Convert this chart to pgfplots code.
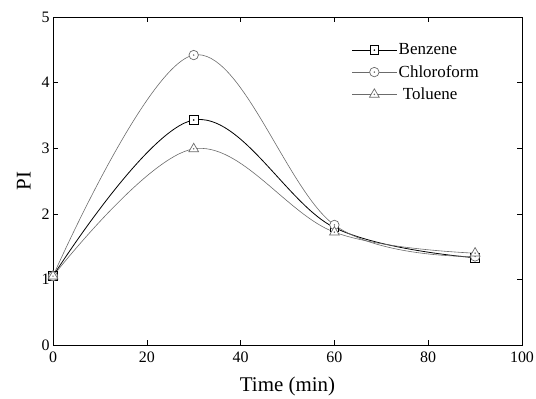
\documentclass[border=0pt]{standalone}
\usepackage{pgfplots}
\pgfplotsset{compat=1.18}
\usepackage{fontspec}
\setmainfont{Liberation Serif}
\pgfdeclareplotmark{sqdot}{%
  \pgfpathrectangle{\pgfqpoint{-\pgfplotmarksize}{-\pgfplotmarksize}}{\pgfqpoint{2\pgfplotmarksize}{2\pgfplotmarksize}}%
  \pgfusepathqfillstroke
  \pgfpathcircle{\pgfpointorigin}{0.35pt}\pgfusepathqstroke}
\pgfdeclareplotmark{circdot}{%
  \pgfpathcircle{\pgfpointorigin}{1.1\pgfplotmarksize}%
  \pgfusepathqfillstroke
  \pgfpathcircle{\pgfpointorigin}{0.35pt}\pgfusepathqstroke}
\pgfdeclareplotmark{tridot}{%
  \pgfpathmoveto{\pgfqpoint{0pt}{1.3\pgfplotmarksize}}%
  \pgfpathlineto{\pgfpointscale{1.3}{\pgfqpoint{-0.866\pgfplotmarksize}{-0.5\pgfplotmarksize}}}%
  \pgfpathlineto{\pgfpointscale{1.3}{\pgfqpoint{0.866\pgfplotmarksize}{-0.5\pgfplotmarksize}}}%
  \pgfpathclose
  \pgfusepathqfillstroke
  \pgfpathcircle{\pgfqpoint{0pt}{0pt}}{0.35pt}\pgfusepathqstroke}
\definecolor{lgray}{gray}{0.42}
\begin{document}
\begin{tikzpicture}
\useasboundingbox (-53bp,-54bp) rectangle (483bp,345bp);
\begin{axis}[
  scale only axis,
  width=469bp, height=328bp,
  xmin=0, xmax=100, ymin=0, ymax=5,
  xtick={0,20,40,60,80,100},
  ytick={0,1,2,3,4,5},
  tick align=inside,
  major tick length=5bp,
  tick style={black, line width=0.6pt},
  axis line style={line width=0.8pt},
  /pgf/number format/assume math mode=true,
  tick label style={font=\fontsize{16}{18}\selectfont},
  xticklabel style={yshift=-3bp},
  yticklabel style={xshift=0bp},
  xlabel={Time (min)},
  ylabel={PI},
  label style={font=\fontsize{21}{24}\selectfont},
  xlabel style={yshift=-8bp},
  ylabel style={yshift=4bp},
  legend style={draw=none, fill=none, at={(rel axis cs:0.637,0.925)}, anchor=north west,
    font=\fontsize{17}{20}\selectfont, row sep=5bp, inner sep=0pt},
  legend cell align=left,
  legend image code/.code={\draw[mark repeat=2,mark phase=2] plot coordinates {(0bp,0bp)(22bp,0bp)(44bp,0bp)};},
]
\addplot[black, line width=0.8pt, smooth, tension=0.6, mark=sqdot, mark size=4.3bp, mark options={fill=white, solid, line width=0.8pt}] coordinates {(0,1.05) (30,3.43) (60,1.79) (90,1.33)};
\addlegendentry{Benzene}
\addplot[lgray, line width=0.6pt, smooth, tension=0.6, mark=circdot, mark size=4.3bp, mark options={fill=white, solid, line width=0.7pt}] coordinates {(0,1.05) (30,4.42) (60,1.83) (90,1.35)};
\addlegendentry{Chloroform}
\addplot[lgray, line width=0.6pt, smooth, tension=0.6, mark=tridot, mark size=4.3bp, mark options={fill=white, solid, line width=0.7pt}] coordinates {(0,1.05) (30,2.99) (60,1.72) (90,1.40)};
\addlegendentry{\ Toluene}
\end{axis}
\end{tikzpicture}
\end{document}
